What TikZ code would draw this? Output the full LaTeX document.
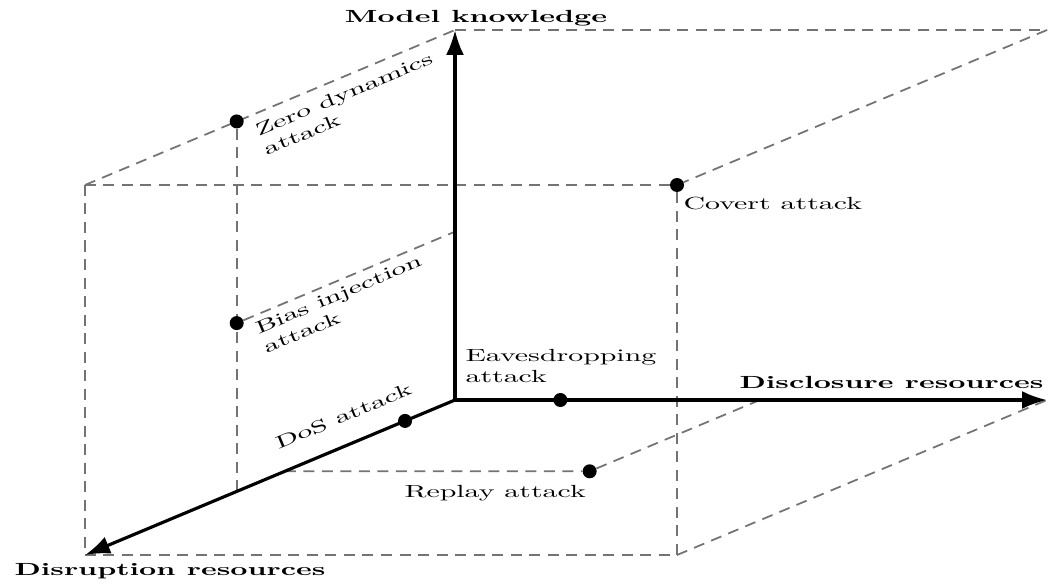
\documentclass[tikz,border=0pt]{standalone}
\usepackage{xcolor}
\usepackage{tikz}
\usetikzlibrary{arrows.meta, backgrounds}
\tikzstyle{axis} = [line width=1.8pt, -{Latex[length=5mm, width=3.6mm]}]
\tikzstyle{guide} = [black!55, line width=1pt, dash pattern=on 2.2mm off 1.5mm]
\tikzstyle{dot} = [circle, fill=black, inner sep=0pt, minimum size=2.8mm]
\tikzstyle{lbl} = [inner sep=0pt, xscale=1.7]
\tikzstyle{axislbl} = [lbl, font=\bfseries, anchor=base]
\tikzstyle{tilted} = [rotate=22.7, lbl, align=left]

\begin{document}
\begin{tikzpicture}[x={(11.84cm,0cm)}, y={(0cm,7.4cm)}, z={(-7.4cm,-3.1cm)}]
    \useasboundingbox (-9.1cm,-3.66cm) rectangle (11.92cm,8cm);

        % Corners
        \coordinate (o) at (0,0,0);
        \coordinate (p100) at (1,0,0);
        \coordinate (p010) at (0,1,0);
        \coordinate (p001) at (0,0,1);
        \coordinate (p110) at (1,1,0);
        \coordinate (p011) at (0,1,1);
        \coordinate (p101) at (1,0,1);
        \coordinate (zdf) at (0,0,0.59);
        \coordinate (bif) at (0,0.455,0);
        \coordinate (repz) at (0,0,0.46);
        \coordinate (repx) at (0.515,0,0);

        % Nodes
        \node (zd) [dot] at (0,1,0.59) {};
        \node (bi) [dot] at (0,0.455,0.59) {};
        \node (dos) [dot] at (0,0,0.135) {};
        \node (eav) [dot] at (0.178,0,0) {};
        \node (rep) [dot] at (0.515,0,0.46) {};
        \node (cov) [dot] at (1,1,1) {};

        % Labels
        \node (mk) [axislbl] at ([shift={(0.42cm,0.14cm)}]p010) {Model knowledge};
        \node (dr) [axislbl] at ([shift={(-3.11cm,0.24cm)}]p100) {Disclosure resources};
        \node (ur) [axislbl] at ([shift={(1.70cm,-0.40cm)}]p001) {Disruption resources};
        \node (zdl) [tilted, anchor=north west] at ([shift={(0.33cm,-0.07cm)}]zd) {Zero dynamics\\attack};
        \node (bil) [tilted, anchor=north west] at ([shift={(0.33cm,0cm)}]bi) {Bias injection\\attack};
        \node (dosl) [tilted, anchor=base west] at ([shift={(-2.54cm,-0.58cm)}]dos) {DoS attack};
        \node (eavl) [lbl, anchor=south west, align=left] at ([shift={(0.20cm,0.34cm)}]o) {Eavesdropping\\attack};
        \node (repl) [lbl, anchor=base] at ([shift={(-1.89cm,-0.53cm)}]rep) {Replay attack};
        \node (covl) [lbl, anchor=base west] at ([shift={(0.12cm,-0.50cm)}]cov) {Covert attack};

        \begin{pgfonlayer}{background}
        % Box
        \draw [guide] (p010) -- (p110);
        \draw [guide] (p110) -- (cov);
        \draw [guide] (p011) -- (cov);
        \draw [guide] (p011) -- (p010);
        \draw [guide] (p011) -- (p001);
        \draw [guide] (cov) -- (p101);
        \draw [guide] (p001) -- (p101);
        \draw [guide] (p101) -- (p100);
        \draw [guide] (zd) -- (zdf);
        \draw [guide] (bi) -- (bif);
        \draw [guide] (repz) -- (rep) -- (repx);

        % Arrows
        \draw [axis] (o) -- (p010);
        \draw [axis] (o) -- (p100);
        \draw [axis] (o) -- (p001);
        \end{pgfonlayer}

    \end{tikzpicture}
\end{document}
